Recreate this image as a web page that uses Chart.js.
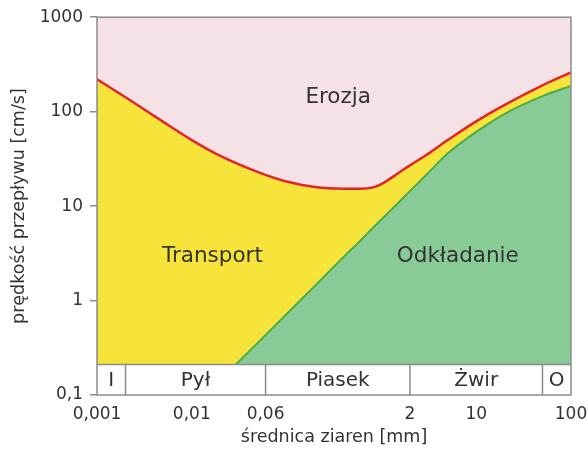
<!DOCTYPE html>
<html>
<head>
<meta charset="utf-8">
<script src="https://cdn.jsdelivr.net/npm/chart.js@4"></script>
<style>
html, body { margin: 0; padding: 0; background: #fff; }
</style>
</head>
<body>
<canvas id="hjulstrom" width="588" height="452"></canvas>
<script>
// grain diameter [mm] and threshold speeds [cm/s]
const grainSize = [0.001, 0.002, 0.005, 0.01, 0.02, 0.05, 0.1, 0.2, 0.4, 0.6, 0.8, 1, 1.5, 2, 3, 5, 10, 20, 50, 100];
const erosionSpeed = [220, 142, 78, 50, 34, 22.9, 18.2, 15.9, 15.3, 15.3, 15.7, 17.1, 22.3, 27, 35, 50, 79, 118, 190, 260];
const depositSpeed = [0.0072, 0.0144, 0.036, 0.072, 0.144, 0.36, 0.72, 1.44, 2.9, 4.3, 5.8, 7.2, 10.8, 14.4, 21.6, 36, 61, 95, 146, 187];

const xTicks = [0.001, 0.01, 0.06, 2, 10, 100];
const yTicks = [0.1, 1, 10, 100, 1000];

// grain classes along the bottom strip
const classBounds = [0.001, 0.002, 0.06, 2, 50, 100];
const classNames = ["I", "Pył", "Piasek", "Żwir", "O"];
const classTop = 0.21;

const zoneNames = ["Erozja", "Transport", "Odkładanie"];
const zoneSize = [0.35, 0.0165, 6.4];
const zoneSpeed = [140, 2.9, 2.9];

Chart.defaults.font.family = '"DejaVu Sans", sans-serif';
Chart.defaults.color = "#333";

const fmt = (v) => String(v).replace(".", ",");

const decor = {
    id: "decor",
    beforeDraw(chart) {
        const { ctx, chartArea: a } = chart;
        ctx.save();
        ctx.fillStyle = "#f4e2e6";
        ctx.fillRect(a.left, a.top, a.right - a.left, a.bottom - a.top);
        ctx.restore();
    },
    afterDatasetsDraw(chart) {
        const { ctx, chartArea: a, scales } = chart;
        const x = scales.x, y = scales.y;
        const top = y.getPixelForValue(classTop);
        ctx.save();
        ctx.fillStyle = "#fff";
        ctx.fillRect(a.left, top, a.right - a.left, a.bottom - top);

        ctx.strokeStyle = "#8c8c8c";
        ctx.lineWidth = 1.5;
        ctx.beginPath();
        ctx.moveTo(a.left, top);
        ctx.lineTo(a.right, top);
        classBounds.slice(1, -1).forEach((b) => {
            const px = x.getPixelForValue(b);
            ctx.moveTo(px, top);
            ctx.lineTo(px, a.bottom);
        });
        ctx.stroke();
        ctx.strokeRect(a.left, a.top, a.right - a.left, a.bottom - a.top);

        ctx.fillStyle = "#333";
        ctx.textAlign = "center";
        ctx.textBaseline = "middle";
        ctx.font = '20px "DejaVu Sans"';
        classNames.forEach((name, i) => {
            const l = x.getPixelForValue(classBounds[i]);
            const r = x.getPixelForValue(classBounds[i + 1]);
            ctx.fillText(name, (l + r) / 2, (top + a.bottom) / 2 + 1);
        });

        ctx.font = '21.5px "DejaVu Sans"';
        zoneNames.forEach((name, i) => {
            ctx.fillText(name, x.getPixelForValue(zoneSize[i]), y.getPixelForValue(zoneSpeed[i]));
        });
        ctx.restore();
    },
};

new Chart(document.getElementById("hjulstrom"), {
    type: "line",
    data: {
        datasets: [
            {
                label: "erozja",
                data: grainSize.map((d, i) => ({ x: d, y: erosionSpeed[i] })),
                borderColor: "#e4242b",
                borderWidth: 2.5,
                backgroundColor: "#f6e43b",
                fill: 1,
                pointRadius: 0,
                cubicInterpolationMode: "monotone",
            },
            {
                label: "odkładanie",
                data: grainSize.map((d, i) => ({ x: d, y: depositSpeed[i] })),
                borderColor: "#4dab46",
                borderWidth: 2,
                backgroundColor: "#89cb97",
                fill: "start",
                pointRadius: 0,
                cubicInterpolationMode: "monotone",
            },
        ],
    },
    options: {
        responsive: false,
        animation: false,
        devicePixelRatio: 1,
        layout: { padding: { left: 9, right: 17, top: 16, bottom: 0 } },
        plugins: {
            legend: { display: false },
            tooltip: { enabled: false },
            filler: { drawTime: "beforeDatasetsDraw" },
        },
        scales: {
            x: {
                type: "logarithmic",
                min: 0.001,
                max: 100,
                afterBuildTicks: (s) => { s.ticks = xTicks.map((v) => ({ value: v })); },
                afterFit: (s) => {
                    s.height = 57;
                    s.paddingLeft = 0;
                    s.paddingRight = 0;
                },
                ticks: { callback: fmt, font: { size: 17 }, padding: 9, maxRotation: 0, autoSkip: false },
                grid: { display: false, drawTicks: false },
                border: { display: false },
                title: {
                    display: true,
                    text: "średnica ziaren [mm]",
                    font: { size: 17.5 },
                    padding: { top: 0, bottom: 4 },
                },
            },
            y: {
                type: "logarithmic",
                min: 0.1,
                max: 1000,
                afterBuildTicks: (s) => { s.ticks = yTicks.map((v) => ({ value: v })); },
                afterFit: (s) => { s.width = 88; },
                ticks: { callback: fmt, font: { size: 17 }, padding: 7, autoSkip: false },
                grid: { drawOnChartArea: false, drawTicks: true, tickLength: 7, color: "#8c8c8c", lineWidth: 1.5 },
                border: { display: false },
                title: {
                    display: true,
                    text: "prędkość przepływu [cm/s]",
                    font: { size: 17.5 },
                    padding: { top: 0, bottom: 0 },
                },
            },
        },
    },
    plugins: [decor],
});
</script>
</body>
</html>
